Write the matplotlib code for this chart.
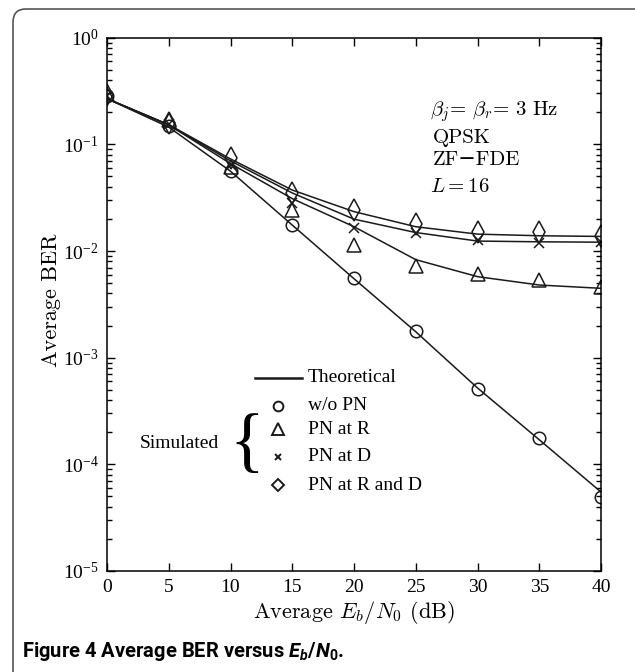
import matplotlib
matplotlib.use("Agg")
import matplotlib.pyplot as plt
from matplotlib.patches import FancyBboxPatch
import numpy as np

plt.rcParams["font.family"] = ["Liberation Serif", "DejaVu Serif"]
plt.rcParams["mathtext.fontset"] = "cm"
plt.rcParams["mathtext.it"] = "Roboto:italic:bold"
plt.rcParams["mathtext.rm"] = "Roboto:bold"
plt.rcParams["mathtext.bf"] = "Roboto:bold"

# Eb/N0 (dB)
snr = [0, 5, 10, 15, 20, 25, 30, 35, 40]

# theoretical curves
theo_wo = [0.268, 0.145, 0.056, 0.0175, 0.0055, 0.00175, 0.00052, 0.00017, 5.5e-5]
theo_r = [0.268, 0.152, 0.066, 0.031, 0.0169, 0.0083, 0.00575, 0.0048, 0.00447]
theo_d = [0.268, 0.152, 0.070, 0.035, 0.0199, 0.0149, 0.0124, 0.0122, 0.0121]
theo_rd = [0.268, 0.153, 0.073, 0.0373, 0.0234, 0.0169, 0.0144, 0.0139, 0.0137]

# simulated points
sim_wo = [0.285, 0.150, 0.0563, 0.0176, 0.0056, 0.00177, 0.00051, 0.000178, 4.9e-5]
sim_r = [0.295, 0.169, 0.062, 0.0243, 0.0114, 0.0072, 0.0061, 0.0053, 0.0046]
sim_d = [0.285, 0.155, 0.064, 0.0284, 0.0166, 0.0147, 0.0128, 0.0118, 0.0121]
sim_rd = [0.290, 0.160, 0.075, 0.0348, 0.0240, 0.0178, 0.0152, 0.0152, 0.0139]

legend_labels = ["w/o PN", "PN at R", "PN at D", "PN at R and D"]

fig = plt.figure(figsize=(6.35, 6.72), dpi=100)
ax = fig.add_axes([0.1685, 0.1503, 0.778, 0.7936])

lc = "#1a1a1a"
cm_fam = ["cmr10", "DejaVu Serif"]
for th in [theo_wo, theo_r, theo_d, theo_rd]:
    ax.plot(snr, th, color=lc, lw=1.1)

mk = dict(linestyle="none", color=lc, mfc="none", mew=1.1)
ax.plot(snr, sim_wo, marker="o", ms=9, **mk)
ax.plot(snr, sim_r, marker="^", ms=10, **mk)
ax.plot(snr, sim_d, marker="x", ms=7, **mk)
ax.plot(snr, sim_rd, marker="d", ms=11, **mk)

ax.set_yscale("log")
ax.set_xlim(0, 40)
ax.set_ylim(1e-5, 1)
ax.set_xticks(snr)
ax.tick_params(which="both", direction="in", top=True, right=True, labelsize=14, width=1)
ax.tick_params(which="major", length=6, pad=6)
ax.tick_params(which="minor", length=3.5)
for s in ax.spines.values():
    s.set_linewidth(1.1)

ax.set_ylabel("Average BER", fontsize=16, family=cm_fam)
ax.yaxis.set_label_coords(-0.093, 0.508)
ax.set_xlabel(r"Average $E_b/N_0$ (dB)", fontsize=16, family=cm_fam, labelpad=2)

# parameter annotation
ax.text(0.654, 0.862, r"$\beta_j\!=\,\beta_r\!=\,3\ \mathrm{Hz}$", transform=ax.transAxes,
        fontsize=15, va="center")
ax.text(0.66, 0.812, "QPSK", transform=ax.transAxes, fontsize=15, family=cm_fam, va="center")
ax.text(0.66, 0.771, "ZF\u2212FDE", transform=ax.transAxes, fontsize=15, family=cm_fam, va="center")
ax.text(0.654, 0.720, r"$L=16$", transform=ax.transAxes, fontsize=15, va="center")

# hand-made legend
ax.plot([0.300, 0.395], [0.362, 0.362], color=lc, lw=1.8, transform=ax.transAxes)
ax.text(0.407, 0.362, "Theoretical", transform=ax.transAxes, fontsize=14, va="center")
rows = [0.310, 0.266, 0.214, 0.161]
markers = [("o", 7), ("^", 8), ("x", 5), ("D", 6)]
for yy, (m, s), lab in zip(rows, markers, legend_labels):
    ax.plot([0.346], [yy], marker=m, ms=s, linestyle="none", color=lc, mfc="none",
            mew=1.4, transform=ax.transAxes)
    ax.text(0.407, yy, lab, transform=ax.transAxes, fontsize=14, va="center")
ax.text(0.067, 0.240, "Simulated", transform=ax.transAxes, fontsize=14, va="center")
ax.text(0.283, 0.236, "{", transform=ax.transAxes, fontsize=52, va="center", ha="center",
        family="Liberation Serif")

# caption and frame
fig.text(0.035, 0.022, r"Figure 4 Average BER versus $E_b/N_0$.", fontsize=14.5,
         family="Roboto", weight="bold", math_fontfamily="custom")
frame = FancyBboxPatch((13 / 635, -0.05), 1.2, 1.0 - 9 / 672 + 0.05,
                       boxstyle="round,pad=0,rounding_size=0.02",
                       transform=fig.transFigure, fill=False, ec="#555555", lw=1.2)
fig.patches.append(frame)

fig.savefig("out.png", dpi=100)
